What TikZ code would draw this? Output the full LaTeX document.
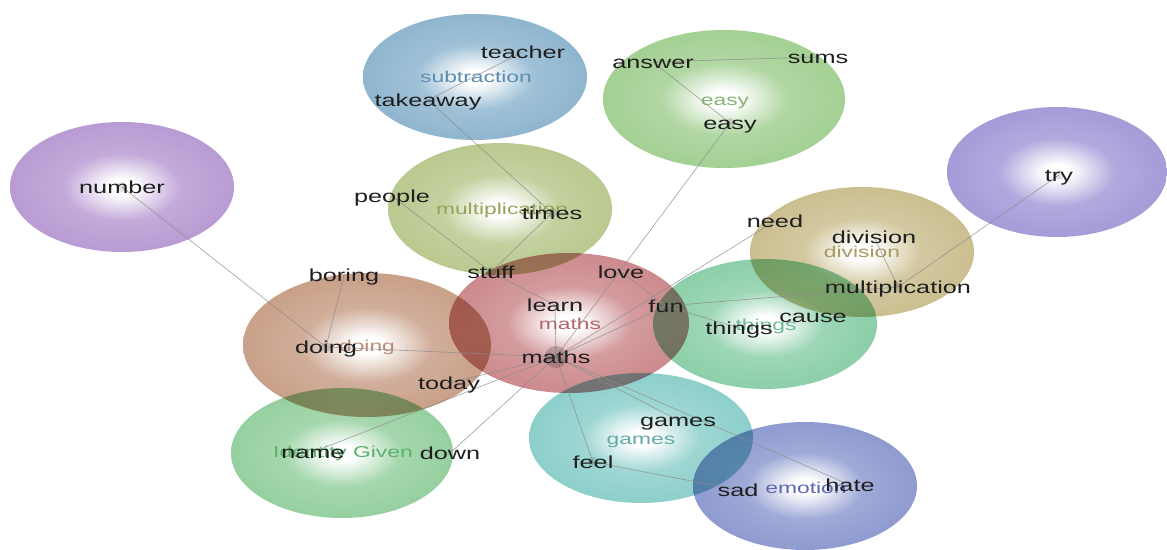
\documentclass[tikz,border=0pt]{standalone}
\usepackage{fontspec}
\setmainfont[FakeStretch=1.45]{Liberation Sans}
\definecolor{subc}{HTML}{8FB6CF} \definecolor{subl}{HTML}{5B8DB0}
\definecolor{easc}{HTML}{A3D093} \definecolor{easl}{HTML}{86B274}
\definecolor{mulc}{HTML}{B9C98F} \definecolor{mull}{HTML}{95A35A}
\definecolor{numc}{HTML}{B89BD3} \definecolor{tryc}{HTML}{A69AD8}
\definecolor{divc}{HTML}{CBBF90} \definecolor{divl}{HTML}{A89A62}
\definecolor{thic}{HTML}{8CCFA9} \definecolor{thil}{HTML}{6DBB95}
\definecolor{matc}{HTML}{CC8A8D} \definecolor{matl}{HTML}{B0686C}
\definecolor{doic}{HTML}{C9A089} \definecolor{doil}{HTML}{B68E78}
\definecolor{idec}{HTML}{96D09F} \definecolor{idel}{HTML}{5BB06D}
\definecolor{gamc}{HTML}{8DCFCB} \definecolor{gaml}{HTML}{62ABA7}
\definecolor{emoc}{HTML}{8F9BD0} \definecolor{emol}{HTML}{5C66B0}
\colorlet{blobc}{white}
\pgfdeclareradialshading[blobc]{blob}{\pgfpoint{0bp}{0bp}}{color(0bp)=(white); color(3bp)=(white); color(13bp)=(blobc!85!white); color(25bp)=(blobc); color(50bp)=(blobc)}
\pgfdeclarelayer{blobs}
\pgfdeclarelayer{links}
\pgfsetlayers{blobs,links,main}
\begin{document}
\begin{tikzpicture}[x=0.025cm, y=-0.025cm, line join=round, line cap=round,
	word/.style={font=\fontsize{12.4}{14}\selectfont, text=black!88, inner sep=0pt, text height=9.2pt, text depth=0pt},
	topic/.style={font=\fontsize{11.2}{13}\selectfont, inner sep=0pt, text height=8.3pt, text depth=0pt},
	link/.style={draw=black!45, line width=0.45pt, opacity=0.8}]
	\useasboundingbox (0,0) rectangle (1167,550);
	
	% cluster labels
	\node[topic, text=subl] (c-subtraction) at (476,77) {subtraction};
	\node[topic, text=easl] (c-easy) at (725,100) {easy};
	\node[topic, text=mull] (c-multiplication) at (502,209) {multiplication};
	\node[topic, text=divl] (c-division) at (862,252) {division};
	\node[topic, text=thil] (c-things) at (766,325) {things};
	\node[topic, text=matl] (c-maths) at (570,324) {maths};
	\node[topic, text=doil] (c-doing) at (367,346) {doing};
	\node[topic, text=idel] (c-identity) at (343,452) {Identity Given};
	\node[topic, text=gaml] (c-games) at (641,439) {games};
	\node[topic, text=emol] (c-emotion) at (806,488) {emotion};
	
	% words
	\node[word] (teacher) at (523,52) {teacher};
	\node[word] (takeaway) at (428,100) {takeaway};
	\node[word] (answer) at (653,62) {answer};
	\node[word] (sums) at (818,57) {sums};
	\node[word] (easy) at (730,123) {easy};
	\node[word] (number) at (122,187) {number};
	\node[word] (try) at (1059,175) {try};
	\node[word] (people) at (392,196) {people};
	\node[word] (times) at (552,213) {times};
	\node[word] (need) at (775,221) {need};
	\node[word] (division) at (874,237) {division};
	\node[word] (multiplication) at (898,287) {multiplication};
	\node[word] (boring) at (344,275) {boring};
	\node[word] (stuff) at (491,272) {stuff};
	\node[word] (love) at (621,272) {love};
	\node[word] (learn) at (555,305) {learn};
	\node[word] (fun) at (666,306) {fun};
	\node[word] (things) at (739,328) {things};
	\node[word] (cause) at (813,316) {cause};
	\node[word] (doing) at (326,347) {doing};
	\node[word] (maths) at (556,357) {maths};
	\node[word] (today) at (449,383) {today};
	\node[word] (name) at (313,452) {name};
	\node[word] (down) at (450,453) {down};
	\node[word] (games) at (678,420) {games};
	\node[word] (feel) at (593,462) {feel};
	\node[word] (sad) at (738,490) {sad};
	\node[word] (hate) at (850,485) {hate};
	
	\begin{pgfonlayer}{blobs}
		\foreach \cx/\cy/\rx/\ry/\col in {475/77/112/63/subc, 724/99/121/69/easc, 500/209/112/66/mulc,
			122/187/112/65/numc, 1057/172/110/65/tryc, 862/252/112/65/divc, 765/324/112/65/thic,
			569/323/120/70/matc, 367/345/124/72/doic, 342/453/111/65/idec, 641/438/112/65/gamc,
			805/486/112/64/emoc}{
			\colorlet{blobc}{\col}
			\shade[shading=blob, blend mode=multiply] (\cx,\cy) ellipse [x radius=\rx, y radius=\ry];
		}
	\end{pgfonlayer}
	
	\begin{pgfonlayer}{links}
		\foreach \a/\b in {teacher/takeaway, takeaway/times, times/stuff, people/stuff, stuff/learn,
			learn/maths, answer/sums, answer/easy, easy/maths, division/multiplication, try/multiplication,
			number/doing, boring/doing, doing/maths, today/maths, name/maths, down/maths, maths/need,
			maths/fun, love/fun, fun/things, fun/multiplication, maths/games, maths/hate, maths/feel, feel/sad}
		\draw[link] (\a.center) -- (\b.center);
		\foreach \n in {number, doing, times, easy, try, multiplication, feel, stuff}
		\fill[black, opacity=0.12] (\n.center) circle (5);
		\fill[black, opacity=0.18] (maths.center) circle (11);
	\end{pgfonlayer}
\end{tikzpicture}
\end{document}
